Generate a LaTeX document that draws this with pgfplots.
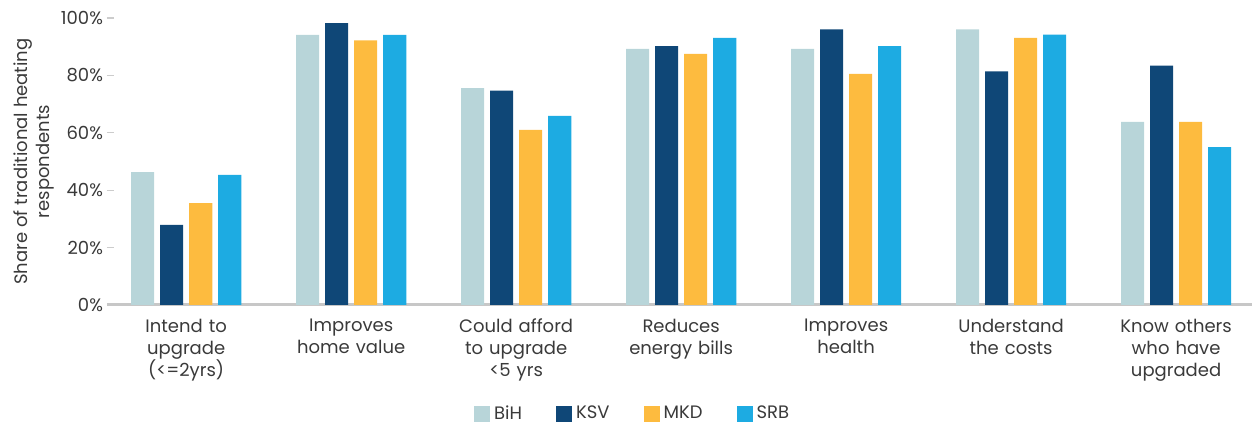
\documentclass[border=0pt]{standalone}
\usepackage{fontspec}
\setmainfont{Poppins}
\usepackage{pgfplots}
\pgfplotsset{compat=1.18}

\definecolor{bihcol}{HTML}{B8D5D9}
\definecolor{ksvcol}{HTML}{0F4777}
\definecolor{mkdcol}{HTML}{FDBB3F}
\definecolor{srbcol}{HTML}{1DABE2}
\definecolor{txtcol}{HTML}{3A3A3A}

\begin{document}
\begin{tikzpicture}[font=\fontsize{9}{11}\selectfont, text=txtcol]
\path[use as bounding box] (-53.5pt,-60.5pt) rectangle (572.5pt,152.5pt);
\begin{axis}[
    scale only axis,
    width=572.5pt, height=143.5pt,
    ymin=0, ymax=100,
    xmin=-0.48, xmax=6.46,
    ybar, bar width=0.14,
    axis y line*=left, axis x line*=bottom,
    y axis line style={draw=none},
    x axis line style={draw=black!22, line width=1.5pt},
    xtick=data,
    xticklabels={Intend to\\upgrade\\(<=2yrs), Improves\\home value, Could afford\\to upgrade\\<5 yrs, Reduces\\energy bills, Improves\\health, Understand\\the costs, Know others\\who have\\upgraded},
    xticklabel style={align=center, text width=80pt, anchor=north, yshift=0pt},
    xtick style={draw=none},
    ytick={0,20,...,100},
    yticklabels={0\%,20\%,40\%,60\%,80\%,100\%},
    ytick style={draw=black!20, line width=0.6pt},
    major tick length=3.5pt,
    yticklabel style={xshift=1.5pt},
    ylabel={Share of traditional heating\\respondents},
    ylabel style={align=center, at={(axis description cs:-0.064,0.5)}, anchor=center},
    legend style={at={(rel axis cs:0.46,-0.38)}, anchor=center, draw=none, fill=none, legend columns=4,
        /tikz/every even column/.append style={column sep=15pt}},
    legend image code/.code={\fill[#1] (0pt,-4pt) rectangle (8pt,4pt);},
    legend cell align=left,
]
\addplot[fill=bihcol, draw=none, bar shift=-0.264] coordinates {(0,46.3) (1,94.1) (2,75.6) (3,89.2) (4,89.2) (5,96.0) (6,63.8)};
\addplot[fill=ksvcol, draw=none, bar shift=-0.088] coordinates {(0,27.9) (1,98.2) (2,74.7) (3,90.2) (4,96.0) (5,81.4) (6,83.4)};
\addplot[fill=mkdcol, draw=none, bar shift=0.088] coordinates {(0,35.5) (1,92.2) (2,61.0) (3,87.5) (4,80.5) (5,93.1) (6,63.8)};
\addplot[fill=srbcol, draw=none, bar shift=0.264] coordinates {(0,45.3) (1,94.1) (2,65.9) (3,93.1) (4,90.2) (5,94.2) (6,55.0)};
\legend{BiH, KSV, MKD, SRB}
\end{axis}
\end{tikzpicture}
\end{document}
